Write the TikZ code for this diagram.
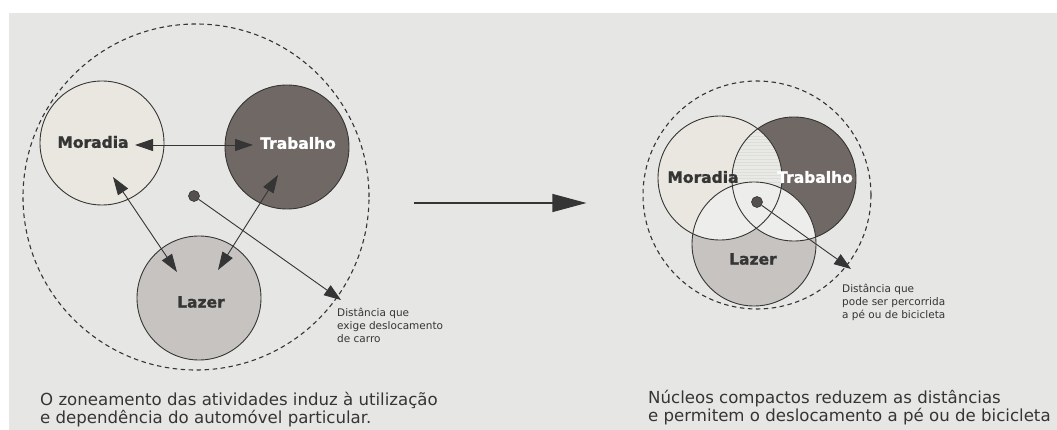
\documentclass[tikz,border=0pt]{standalone}
\usepackage{fontspec}
\setmainfont{DejaVu Sans}
\newfontfamily\pesada[FakeBold=1.4]{DejaVu Sans Bold}
\usetikzlibrary{arrows.meta,calc}

\definecolor{papel}{HTML}{E6E6E4}
\definecolor{tinta}{HTML}{353535}
\definecolor{corMoradia}{HTML}{E9E7E0}
\definecolor{corTrabalho}{HTML}{6F6865}
\definecolor{corLazer}{HTML}{C7C3C0}
\definecolor{corCruz}{HTML}{E9E9E6}
\definecolor{corRisco}{HTML}{DDDDD9}
\definecolor{corMeio}{HTML}{EDEDEB}
\definecolor{corPonto}{HTML}{555050}

\tikzset{
    zona/.style={circle, draw=tinta, line width=1.1pt, dash pattern=on 4.5pt off 3.5pt, inner sep=0pt},
    nucleo/.style={circle, minimum size=124pt, inner sep=0pt},
    contorno/.style={draw=tinta, line width=0.9pt},
    rotulo/.style={font=\pesada\fontsize{15.5}{18}\selectfont, text=tinta, inner sep=0pt},
    ponto/.style={circle, fill=corPonto, draw=tinta, line width=0.6pt, minimum size=11pt, inner sep=0pt},
    dupla/.style={draw=tinta, line width=0.9pt, {Triangle[length=18pt,width=12pt]}-{Triangle[length=18pt,width=12pt]}},
    alcance/.style={draw=tinta, line width=0.9pt, -{Triangle[length=17pt,width=12pt]}},
    nota/.style={font=\fontsize{10.5}{13}\selectfont, text=tinta, align=left, anchor=north west, inner sep=0pt},
    legenda/.style={font=\fontsize{16.6}{18}\selectfont, text=tinta, align=left, anchor=north west, inner sep=0pt}
}

\begin{document}
\begin{tikzpicture}[x=1pt, y=-1pt]
            \useasboundingbox (0,0) rectangle (1057,430);
            \fill[white] (0,0) rectangle (1057,430);
            \fill[papel] (9,13) rectangle (1057,430);

            \node[zona, minimum size=346pt] (zonaA) at (196,197) {};
            \node[nucleo, contorno, fill=corMoradia] (morA) at (102,143) {};
            \node[nucleo, contorno, fill=corTrabalho] (trbA) at (287,147) {};
            \node[nucleo, contorno, fill=corLazer] (lazA) at (199,298) {};
            \node[rotulo] (morAtxt) at (93,142) {Moradia};
            \node[rotulo, text=white] (trbAtxt) at (298,143) {Trabalho};
            \node[rotulo] (lazAtxt) at (201,302) {Lazer};

            \draw[dupla] ($(morA)+(33,2)$) -- ($(trbA)+(-34,-2)$);
            \draw[dupla] ($(morA)+(11,34)$) -- ($(lazA)+(-22,-26)$);
            \draw[dupla] ($(trbA)+(-9,28)$) -- ($(lazA)+(19,-28)$);

            \node[ponto] (pontoA) at (194,196) {};
            \coordinate (fimA) at (341,300);
            \draw[alcance] (pontoA) -- (fimA);
            \node[nota] (notaA) at (337,308) {Distância que\\exige deslocamento\\de carro};

            \node[zona, minimum size=228pt] (zonaB) at (757,195) {};
            \node[nucleo, fill=corMoradia] (morB) at (720,178) {};
            \node[nucleo, fill=corTrabalho] (trbB) at (794,179) {};
            \node[nucleo, fill=corLazer] (lazB) at (754,244) {};
            \begin{scope}
                \clip (morB) circle (62pt);
                \begin{scope}
                    \clip (trbB) circle (62pt);
                    \fill[corCruz] (trbB) circle (62pt);
                    \foreach \y in {116,119.3,...,240}
                        \draw[corRisco, line width=0.4pt] (730,\y) -- (785,\y);
                \end{scope}
                \fill[corMeio] (lazB) circle (62pt);
            \end{scope}
            \begin{scope}
                \clip (trbB) circle (62pt);
                \fill[corMeio] (lazB) circle (62pt);
            \end{scope}
            \foreach \c in {morB,trbB,lazB}
                \draw[contorno] (\c) circle (62pt);
            \node[rotulo] (morBtxt) at (703,177) {Moradia};
            \node[rotulo, text=white] (trbBtxt) at (815,177) {Trabalho};
            \node[rotulo] (lazBtxt) at (753,259) {Lazer};

            \node[ponto] (pontoB) at (757,202) {};
            \coordinate (fimB) at (851,269);
            \draw[alcance] (pontoB) -- (fimB);
            \node[nota] (notaB) at (842,284) {Distância que\\pode ser percorrida\\a pé ou de bicicleta};

            \draw[line width=1.1pt, draw=tinta, -{Triangle[length=34pt,width=18pt]}] ($(zonaA.east)+(44,6)$) -- ($(zonaB.west)+(-56,8)$);

            \node[legenda] (legA) at (40,392) {O zoneamento das atividades induz à utilização\\e dependência do automóvel particular.};
            \node[legenda] (legB) at (648,390) {Núcleos compactos reduzem as distâncias\\e permitem o deslocamento a pé ou de bicicleta};
        \end{tikzpicture}
\end{document}
